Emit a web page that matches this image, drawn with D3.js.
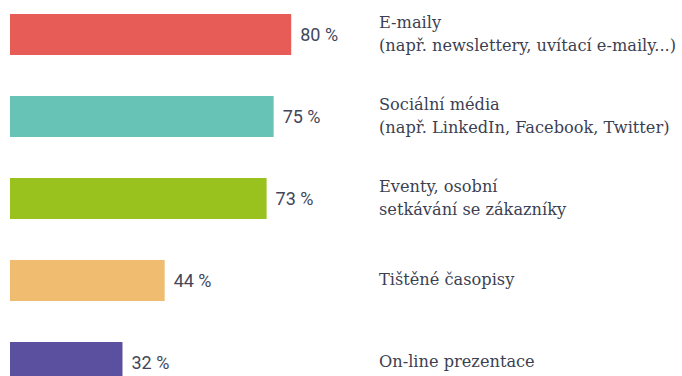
<!DOCTYPE html>
<html>
<head>
<meta charset="utf-8">
<script src="https://cdn.jsdelivr.net/npm/d3@7"></script>
<style>
  html, body { margin: 0; padding: 0; background: #fff; }
  svg { display: block; }
</style>
</head>
<body>
<svg id="chart" width="682" height="376"></svg>
<script>
const categories = ["email", "social", "events", "print", "web"];
const values = [80, 75, 73, 44, 32];
const labelLines = [
  ["E-maily", "(např. newslettery, uvítací e-maily...)"],
  ["Sociální média", "(např. LinkedIn, Facebook, Twitter)"],
  ["Eventy, osobní", "setkávání se zákazníky"],
  ["Tištěné časopisy"],
  ["On-line prezentace"]
];
const colors = ["#e85c58", "#67c3b5", "#9ac21f", "#efbc70", "#5b50a0"];

const width = 682;
const height = 376;
const svg = d3.select("#chart");

let x = d3.scaleLinear().domain([0, 100]).range([10, 361.5]);

let y = d3
  .scaleBand()
  .domain(categories)
  .range([-6.5, 403.5])
  .paddingInner(0.5)
  .paddingOuter(0.25);

let bars = svg.append("g");

bars
  .selectAll("rect")
  .data(categories)
  .enter()
  .append("rect")
  .attr("x", x(0))
  .attr("y", (d) => y(d))
  .attr("width", (d, i) => x(values[i]) - x(0))
  .attr("height", y.bandwidth())
  .attr("fill", (d, i) => colors[i]);

// value labels
svg
  .append("g")
  .selectAll("text")
  .data(categories)
  .enter()
  .append("text")
  .attr("x", (d, i) => x(values[i]) + 9)
  .attr("y", (d) => y(d) + y.bandwidth() / 2)
  .attr("dy", "0.35em")
  .attr("font-family", "Roboto, 'Open Sans', sans-serif")
  .attr("font-size", 18)
  .attr("fill", "#43465a")
  .text((d, i) => values[i] + " %");

// category labels
let lineH = 23;
let cats = svg
  .append("g")
  .selectAll("text")
  .data(categories)
  .enter()
  .append("text")
  .attr("font-family", "'DejaVu Serif', serif")
  .attr("font-size", 16.2)
  .attr("fill", "#3c3f52");

cats
  .selectAll("tspan")
  .data((d, i) =>
    labelLines[i].map((t, j) => ({
      t: t,
      yy: y(d) + y.bandwidth() / 2 + (j - (labelLines[i].length - 1) / 2) * lineH
    }))
  )
  .enter()
  .append("tspan")
  .attr("x", 379)
  .attr("y", (d) => d.yy)
  .attr("dy", "0.3em")
  .text((d) => d.t);
</script>
</body>
</html>
